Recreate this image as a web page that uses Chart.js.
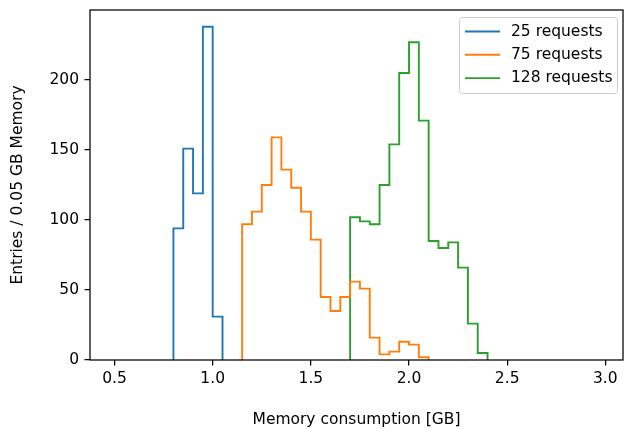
<!DOCTYPE html>
<html lang="en">
<head>
  <meta charset="UTF-8" />
  <title>Memory consumption histogram</title>
  <script src="https://cdn.jsdelivr.net/npm/chart.js"></script>
  <style>
    html, body {
      margin: 0;
      padding: 0;
      background: white;
    }
    .wrap {
      width: 624px;
      height: 429px;
    }
  </style>
</head>
<body>
  <div class="wrap"><canvas id="myChart" width="624" height="429"></canvas></div>

  <script>
    // histogram data, bins of 0.05 GB
    const binWidth = 0.05;
    const seriesNames = ["25 requests", "75 requests", "128 requests"];
    const seriesColors = ["#1f77b4", "#ff7f0e", "#2ca02c"];
    const binStarts = [0.80, 1.15, 1.70];

    const counts25 = [94, 151, 119, 238, 31];
    const counts75 = [97, 106, 125, 159, 136, 123, 106, 86, 45, 35, 45, 56, 51, 16, 4, 6, 13, 11, 2];
    const counts128 = [102, 99, 97, 125, 154, 205, 227, 171, 85, 80, 84, 66, 26, 5];

    const xTicks = [0.5, 1.0, 1.5, 2.0, 2.5, 3.0];
    const yTicks = [0, 50, 100, 150, 200];

    const FONT = "'DejaVu Sans', sans-serif";
    const FSIZE = 15.5;
    const LW = 1.9;

    // outline of a step histogram: two points on every bin edge
    function stepOutline(start, counts) {
      const pts = [];
      for (let i = 0; i <= counts.length; i++) {
        const edge = +(start + i * binWidth).toFixed(4);
        pts.push({ x: edge, y: i === 0 ? 0 : counts[i - 1] });
        pts.push({ x: edge, y: i === counts.length ? 0 : counts[i] });
      }
      return pts;
    }

    const allCounts = [counts25, counts75, counts128];
    const datasets = allCounts.map((c, i) => ({
      label: seriesNames[i],
      data: stepOutline(binStarts[i], c),
      borderColor: seriesColors[i],
      borderWidth: LW,
      borderJoinStyle: "miter",
      borderCapStyle: "butt",
      pointRadius: 0,
      fill: false,
      tension: 0
    }));

    // spines + legend box drawn over the plot like matplotlib does
    const framePlugin = {
      id: "frame",
      afterDraw(chart) {
        const { ctx, chartArea } = chart;
        ctx.save();
        ctx.strokeStyle = "#000";
        ctx.lineWidth = 1.25;
        ctx.strokeRect(chartArea.left, chartArea.top, chartArea.right - chartArea.left, chartArea.bottom - chartArea.top);

        ctx.font = FSIZE + "px " + FONT;
        const textW = Math.max(...seriesNames.map(n => ctx.measureText(n).width));
        const boxW = 5.5 + 35 + 11 + textW + 5;
        const boxH = 76;
        const bx = chartArea.right - 5.5 - boxW;
        const by = chartArea.top + 7.5;
        ctx.beginPath();
        ctx.roundRect(bx, by, boxW, boxH, 3);
        ctx.fillStyle = "rgba(255,255,255,0.8)";
        ctx.fill();
        ctx.strokeStyle = "#cccccc";
        ctx.lineWidth = 1;
        ctx.stroke();

        ctx.textBaseline = "middle";
        ctx.textAlign = "left";
        seriesNames.forEach((name, i) => {
          const cy = by + 14 + i * 23.3;
          ctx.strokeStyle = seriesColors[i];
          ctx.lineWidth = LW;
          ctx.beginPath();
          ctx.moveTo(bx + 5.5, cy);
          ctx.lineTo(bx + 40.5, cy);
          ctx.stroke();
          ctx.fillStyle = "#000";
          ctx.fillText(name, bx + 51.5, cy);
        });
        ctx.restore();
      }
    };

    Chart.defaults.font.family = FONT;
    Chart.defaults.font.size = FSIZE;
    Chart.defaults.color = "#000";

    new Chart(document.getElementById("myChart").getContext("2d"), {
      type: "line",
      data: { datasets: datasets },
      options: {
        responsive: false,
        animation: false,
        layout: { padding: { top: 10, right: 1, left: 0, bottom: 0 } },
        plugins: {
          legend: { display: false },
          tooltip: { enabled: false }
        },
        scales: {
          x: {
            type: "linear",
            min: 0.375,
            max: 3.09,
            border: { display: false },
            grid: { drawOnChartArea: false, color: "#000", lineWidth: 1.25, tickLength: 5.5 },
            ticks: { padding: 4.5, callback: v => v.toFixed(1) },
            afterBuildTicks: s => { s.ticks = xTicks.map(v => ({ value: v })); },
            afterFit: s => { s.height = 69; s.paddingLeft = 0; s.paddingRight = 0; },
            title: { display: true, text: "Memory consumption [GB]", padding: { top: 0, bottom: 0 } }
          },
          y: {
            min: 0,
            max: 250,
            border: { display: false },
            grid: { drawOnChartArea: false, color: "#000", lineWidth: 1.25, tickLength: 5.5 },
            ticks: { padding: 5.5 },
            afterBuildTicks: s => { s.ticks = yTicks.map(v => ({ value: v })); },
            afterFit: s => { s.width = 90; s.paddingTop = 0; s.paddingBottom = 0; },
            title: { display: true, text: "Entries / 0.05 GB Memory", padding: { top: 8.5, bottom: 0 } }
          }
        }
      },
      plugins: [framePlugin]
    });
  </script>
</body>
</html>
